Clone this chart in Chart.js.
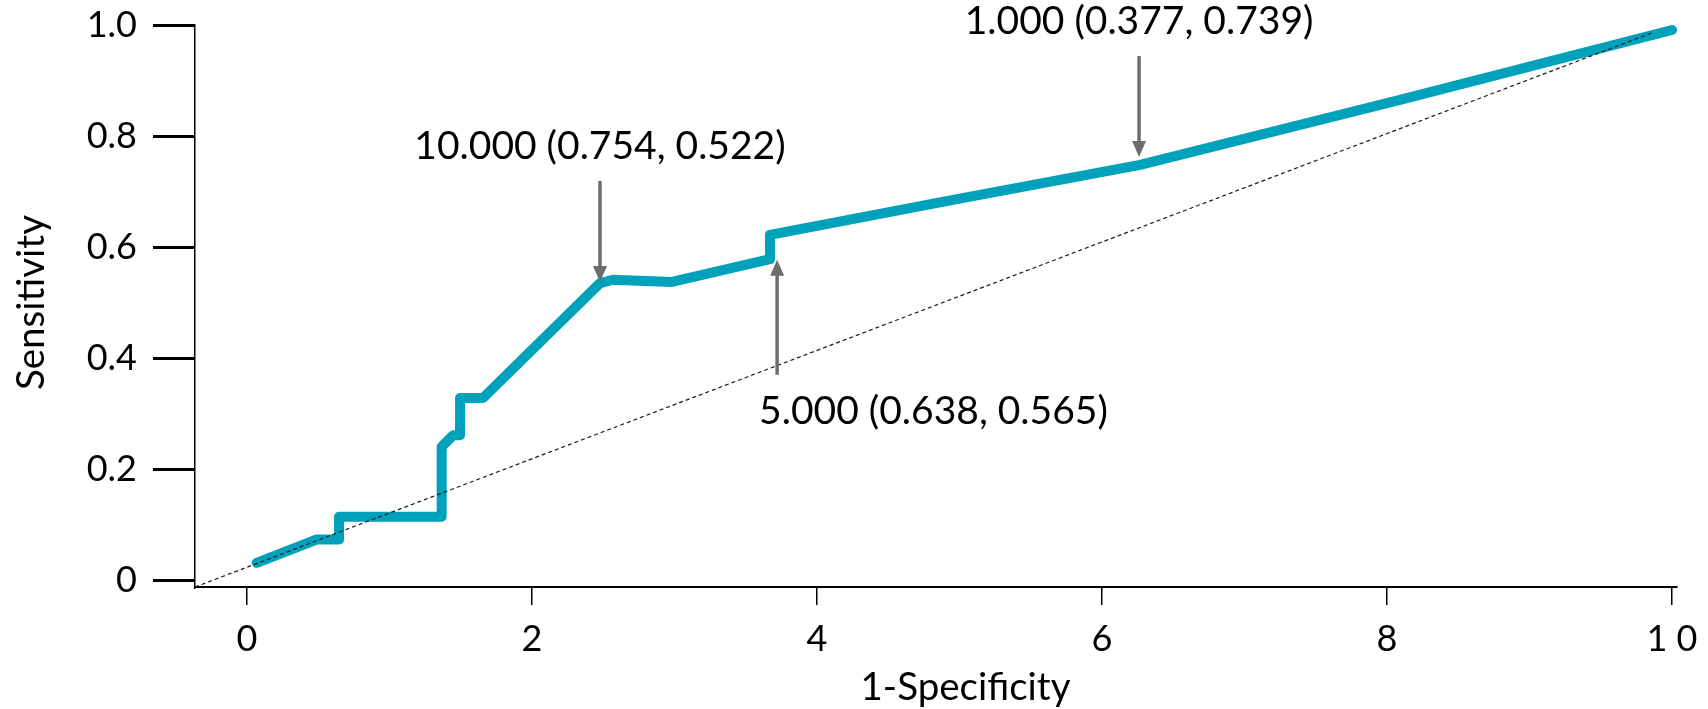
<!DOCTYPE html>
<html>
<head>
<meta charset="utf-8">
<script src="https://cdn.jsdelivr.net/npm/chart.js@4.4.1/dist/chart.umd.min.js"></script>
<style>
html, body { margin: 0; padding: 0; background: #fff; }
</style>
</head>
<body>
<canvas id="roc" width="1708" height="709"></canvas>
<script>
// Curva ROC (x = 1-Specificity como impresso no eixo, y = Sensitivity)
const rocX = [0.068, 0.489, 0.646, 0.646, 1.366, 1.366, 1.446, 1.495, 1.495, 1.656, 2.477, 2.568, 2.982, 3.670, 3.670, 4.954, 6.267, 6.688, 8.091, 10.0];
const rocY = [0.031, 0.073, 0.073, 0.114, 0.114, 0.240, 0.261, 0.261, 0.328, 0.328, 0.535, 0.541, 0.537, 0.578, 0.622, 0.685, 0.748, 0.775, 0.865, 0.991];

// Linha de referencia (diagonal tracejada)
const diagX = [-0.365, 9.87];
const diagY = [-0.0126, 0.987];

// Ticks
const xTickValues = [0, 2, 4, 6, 8, 10];
const xTickLabels = ['0', '2', '4', '6', '8', '1 0'];
const yTickValues = [0, 0.2, 0.4, 0.6, 0.8, 1.0];
const yTickLabels = ['0', '0.2', '0.4', '0.6', '0.8', '1.0'];

// Pontos de corte anotados
const annotText = ['10.000 (0.754, 0.522)', '5.000 (0.638, 0.565)', '1.000 (0.377, 0.739)'];
const annotX = [2.477, 3.72, 6.26];
const annotY = [0.537, 0.577, 0.762];
const annotSide = ['above', 'below', 'above'];

const FONT = 'Lato, "Open Sans", sans-serif';

// desenha setas, rotulos e titulos dos eixos
const notesPlugin = {
    id: 'rocNotes',
    afterDatasetsDraw(chart){
        const ctx = chart.ctx;
        const xs = chart.scales.x, ys = chart.scales.y;
        ctx.save();
        annotText.forEach((t, i) => {
            const px = xs.getPixelForValue(annotX[i]);
            const py = ys.getPixelForValue(annotY[i]);
            const up = annotSide[i] === 'above';
            const dir = up ? -1 : 1;
            const tail = py + dir * (up ? 101 : 115);
            ctx.strokeStyle = '#6d6d6d';
            ctx.lineWidth = 3.5;
            ctx.beginPath(); ctx.moveTo(px, tail); ctx.lineTo(px, py + dir*14); ctx.stroke();
            ctx.fillStyle = '#6d6d6d';
            ctx.beginPath(); ctx.moveTo(px, py); ctx.lineTo(px - 7, py + dir*16); ctx.lineTo(px + 7, py + dir*16); ctx.closePath(); ctx.fill();
            ctx.fillStyle = '#000';
            ctx.font = '39px ' + FONT;
            ctx.textBaseline = 'middle';
            if(up){ ctx.textAlign = 'center'; ctx.fillText(t, px, tail - 35); }
            else { ctx.textAlign = 'left'; ctx.fillText(t, px - 18, tail + 37); }
        });
        // titulos
        ctx.fillStyle = '#000';
        ctx.font = '38.5px ' + FONT;
        ctx.textAlign = 'center';
        ctx.textBaseline = 'middle';
        ctx.fillText('1-Specificity', xs.getPixelForValue(5) + 6, 688);
        ctx.translate(32, ys.getPixelForValue(0.5));
        ctx.rotate(-Math.PI/2);
        ctx.fillText('Sensitivity', 0, 0);
        ctx.restore();
    }
};

new Chart(document.getElementById('roc'), {
    type: 'scatter',
    data: {
        datasets: [
            { label: 'Reference', data: diagX.map((x, i) => ({x, y: diagY[i]})), showLine: true,
              borderColor: '#1a1a1a', borderWidth: 1.2, borderDash: [4, 3], pointRadius: 0 },
            { label: 'ROC', data: rocX.map((x, i) => ({x, y: rocY[i]})), showLine: true,
              borderColor: '#00A1BA', borderWidth: 10, pointRadius: 0,
              borderCapStyle: 'round', borderJoinStyle: 'round' }
        ]
    },
    options: {
        responsive: false,
        animation: false,
        events: [],
        layout: { padding: { top: 25, right: 31, left: 0, bottom: 0 } },
        plugins: { legend: { display: false }, tooltip: { enabled: false } },
        scales: {
            x: {
                type: 'linear', min: -0.365, max: 10.035,
                afterBuildTicks: s => { s.ticks = xTickValues.map(v => ({value: v})); },
                afterFit: s => { s.height = 122; s.paddingLeft = 0; s.paddingRight = 0; },
                grid: { drawOnChartArea: false, tickLength: 18, lineWidth: 1.5, tickWidth: 1.5, tickColor: '#000' },
                border: { display: true, color: '#000', width: 2 },
                ticks: { autoSkip: false, maxRotation: 0, padding: 13, color: '#000',
                         font: { family: FONT, size: 36 }, callback: (v, i) => xTickLabels[i] }
            },
            y: {
                type: 'linear', min: -0.0126, max: 1.0,
                afterBuildTicks: s => { s.ticks = yTickValues.map(v => ({value: v})); },
                afterFit: s => { s.width = 195; s.paddingTop = 0; s.paddingBottom = 0; },
                grid: { drawOnChartArea: false, tickLength: 42, lineWidth: 3, tickWidth: 3, tickColor: '#000' },
                border: { display: true, color: '#000', width: 1.5 },
                ticks: { autoSkip: false, padding: 16, color: '#000',
                         font: { family: FONT, size: 36 }, callback: (v, i) => yTickLabels[i] }
            }
        }
    },
    plugins: [notesPlugin]
});
</script>
</body>
</html>
